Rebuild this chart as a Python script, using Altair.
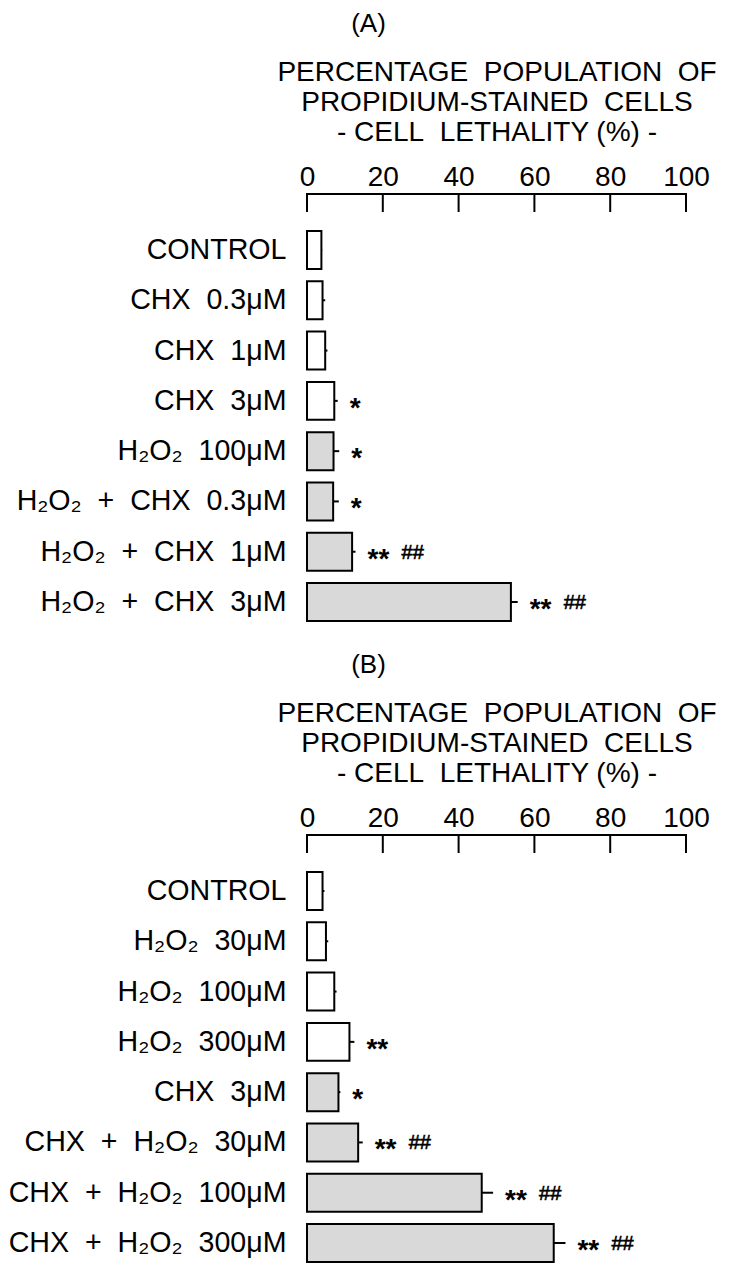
import altair as alt
import pandas as pd

NB = "\u00a0"
def sp(s):
    return s.replace("  ", NB + NB)

# ---------------- Panel A data ----------------
cats_a = [sp(s) for s in [
    "CONTROL", "CHX  0.3μM", "CHX  1μM", "CHX  3μM", "H₂O₂  100μM",
    "H₂O₂  +  CHX  0.3μM", "H₂O₂  +  CHX  1μM", "H₂O₂  +  CHX  3μM"]]
vals_a = [3.8, 4.1, 4.8, 7.2, 7.0, 6.9, 11.9, 53.8]
errs_a = [4.0, 4.8, 5.4, 8.1, 8.5, 8.4, 12.8, 55.6]
stars_a = ["", "", "", "*", "*", "*", "**", "**"]
hash_a = ["", "", "", "", "", "", "##", "##"]
shade_a = ["open", "open", "open", "open", "filled", "filled", "filled", "filled"]

# ---------------- Panel B data ----------------
cats_b = [sp(s) for s in [
    "CONTROL", "H₂O₂  30μM", "H₂O₂  100μM", "H₂O₂  300μM", "CHX  3μM",
    "CHX  +  H₂O₂  30μM", "CHX  +  H₂O₂  100μM", "CHX  +  H₂O₂  300μM"]]
vals_b = [4.1, 5.0, 7.2, 11.2, 8.3, 13.5, 46.1, 65.1]
errs_b = [4.6, 5.6, 7.8, 12.5, 8.8, 14.7, 49.1, 68.2]
stars_b = ["", "", "", "**", "*", "**", "**", "**"]
hash_b = ["", "", "", "", "", "##", "##", "##"]
shade_b = ["open", "open", "open", "open", "filled", "filled", "filled", "filled"]

ticks = [0, 20, 40, 60, 80, 100]
axis_title = [sp("PERCENTAGE  POPULATION  OF"), sp("PROPIDIUM-STAINED  CELLS"),
              sp("- CELL  LETHALITY (%) -")]

FONT = "Liberation Sans"


def panel(letter, cats, vals, errs, stars, hashes, shades):
    df = pd.DataFrame({"cat": cats, "val": vals, "err": errs,
                       "stars": stars, "hash": hashes, "shade": shades})
    base = alt.Chart(df)
    yenc = alt.Y("cat:N", sort=cats,
                 scale=alt.Scale(paddingInner=0.245, paddingOuter=0.368, align=1),
                 axis=alt.Axis(title=None, ticks=False, domain=False, labelFontSize=28.6,
                               labelFont=FONT, labelColor="black", labelPadding=21,
                               labelLimit=400))
    xenc = alt.X("val:Q", scale=alt.Scale(domain=[0, 100], nice=False, zero=True),
                 axis=alt.Axis(orient="top", values=ticks, ticks=False, tickSize=0,
                               domain=False, grid=False, labelFontSize=28, labelFont=FONT,
                               labelColor="black", labelPadding=3, labelFlush=False,
                               title=axis_title, titleFontSize=28, titleFont=FONT,
                               titleFontWeight="normal", titleColor="black",
                               titleLineHeight=30, titlePadding=17))
    bars = base.mark_bar(stroke="black", strokeWidth=2).encode(
        x=xenc, y=yenc,
        fill=alt.Fill("shade:N", scale=alt.Scale(domain=["open", "filled"],
                                                  range=["white", "#d9d9d9"]), legend=None))
    errbar = base.mark_rule(color="black", strokeWidth=2).encode(
        x="val:Q", x2="err:Q", y=alt.Y("cat:N", sort=cats))
    star_t = base.mark_text(align="left", baseline="middle", dx=12, dy=8, fontSize=28,
                            fontWeight="bold", font=FONT, color="black").encode(
        x="err:Q", y=alt.Y("cat:N", sort=cats), text="stars:N")
    hash_t = base.mark_text(align="left", baseline="middle", dx=46, dy=1, fontSize=20,
                            font=FONT, color="black", stroke="black",
                            strokeWidth=0.6).encode(
        x="err:Q", y=alt.Y("cat:N", sort=cats), text="hash:N")
    tdf = pd.DataFrame({"val": ticks})
    tick_rules = alt.Chart(tdf).mark_rule(color="black", strokeWidth=2).encode(
        x="val:Q", y=alt.value(0), y2=alt.value(18))
    dom = alt.Chart(tdf).mark_rule(color="black", strokeWidth=2, strokeCap="square").encode(
        x=alt.datum(0), x2=alt.datum(100), y=alt.value(0))
    return alt.layer(bars, errbar, star_t, hash_t, tick_rules, dom).properties(
        width=379, height=427,
        title=alt.TitleParams(letter, fontSize=26, font=FONT, fontWeight="normal",
                              color="black", anchor="middle", frame="group", dx=-128,
                              offset=21))


chart = alt.vconcat(
    panel("(A)", cats_a, vals_a, errs_a, stars_a, hash_a, shade_a),
    panel("(B)", cats_b, vals_b, errs_b, stars_b, hash_b, shade_b),
    spacing=27,
).properties(
    padding={"left": 0, "top": 3, "right": 5, "bottom": 0}
).configure(
    font=FONT, background="white"
).configure_view(
    strokeWidth=0, stroke=None
)

chart.save("out.html", embed_options={"renderer": "svg", "actions": False})
